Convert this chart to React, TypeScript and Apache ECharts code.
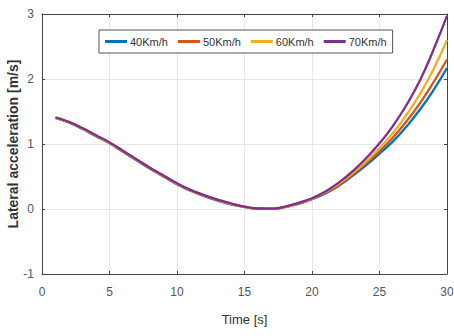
import React, { useEffect, useRef } from "react";
import * as echarts from "echarts";

const times = [1, 2, 3, 4, 5, 6, 7, 8, 9, 10, 11, 12, 13, 14, 15, 16, 17, 18, 19, 20, 21, 22, 23, 24, 25, 26, 27, 28, 29, 30];

const v40 = [1.40, 1.33, 1.23, 1.12, 1.01, 0.88, 0.75, 0.62, 0.50, 0.38, 0.28, 0.20, 0.13, 0.07, 0.03, 0.005, 0.003, 0.03, 0.08, 0.15, 0.24, 0.36, 0.51, 0.67, 0.85, 1.04, 1.27, 1.53, 1.83, 2.17];
const v50 = [1.40, 1.33, 1.235, 1.125, 1.015, 0.885, 0.755, 0.625, 0.505, 0.385, 0.285, 0.205, 0.135, 0.075, 0.032, 0.006, 0.004, 0.032, 0.085, 0.155, 0.25, 0.37, 0.53, 0.70, 0.89, 1.10, 1.35, 1.63, 1.95, 2.30];
const v60 = [1.40, 1.335, 1.24, 1.13, 1.02, 0.89, 0.76, 0.63, 0.51, 0.39, 0.29, 0.21, 0.14, 0.08, 0.034, 0.007, 0.005, 0.034, 0.09, 0.16, 0.26, 0.39, 0.55, 0.73, 0.94, 1.17, 1.45, 1.77, 2.15, 2.60];
const v70 = [1.41, 1.34, 1.245, 1.135, 1.025, 0.895, 0.765, 0.635, 0.515, 0.395, 0.295, 0.215, 0.145, 0.085, 0.036, 0.008, 0.006, 0.036, 0.095, 0.165, 0.27, 0.41, 0.58, 0.78, 1.01, 1.28, 1.60, 1.98, 2.45, 2.97];

const seriesNames = ["40Km/h", "50Km/h", "60Km/h", "70Km/h"];
const seriesValues = [v40, v50, v60, v70];
const colors = ["#0072BD", "#D95319", "#EDB120", "#7E2F8E"];

const xTicks = [0, 5, 10, 15, 20, 25, 30];
const yTicks = [-1, 0, 1, 2, 3];

export default function App() {
  const ref = useRef<HTMLDivElement>(null);
  useEffect(() => {
    if (!ref.current) return;
    const chart = echarts.init(ref.current, null, { renderer: "svg" });
    const font = "Arial, 'Liberation Sans', sans-serif";
    const axisCommon = {
      type: "value" as const,
      axisLine: { show: true, onZero: false, lineStyle: { color: "#444", width: 1 } },
      axisTick: { show: true, inside: true, length: 3, lineStyle: { color: "#444" } },
    };
    chart.setOption({
      animation: false,
      backgroundColor: "#fff",
      color: colors,
      grid: { left: 42, right: 7, top: 14, bottom: 62, containLabel: false, outerBoundsMode: "none" },
      legend: {
        data: seriesNames,
        left: 99,
        top: 30,
        width: 300,
        itemWidth: 22,
        itemHeight: 3,
        itemGap: 10,
        icon: "rect",
        backgroundColor: "#fff",
        borderColor: "#555",
        borderWidth: 1,
        borderRadius: 0,
        padding: [6, 6, 6, 6],
        textStyle: { fontFamily: font, fontSize: 11, color: "#333", padding: [0, 0, 0, -2] },
      },
      xAxis: [
        {
          ...axisCommon,
          position: "bottom",
          min: xTicks[0],
          max: xTicks[xTicks.length - 1],
          interval: 5,
          name: "Time [s]",
          nameLocation: "middle",
          nameGap: 39,
          nameMoveOverlap: false,
          nameTextStyle: { fontFamily: font, fontSize: 13, color: "#333" },
          axisLabel: { fontFamily: font, fontSize: 12, color: "#555", margin: 12 },
          splitLine: { show: true, lineStyle: { color: "#e6e6e6", width: 1 } },
        },
        {
          ...axisCommon,
          position: "top",
          min: xTicks[0],
          max: xTicks[xTicks.length - 1],
          interval: 5,
          axisLabel: { show: false },
          splitLine: { show: false },
        },
      ],
      yAxis: [
        {
          ...axisCommon,
          position: "left",
          min: yTicks[0],
          max: yTicks[yTicks.length - 1],
          interval: 1,
          name: "Lateral acceleration [m/s]",
          nameLocation: "middle",
          nameRotate: 90,
          nameGap: 22,
          nameMoveOverlap: false,
          nameTextStyle: { fontFamily: font, fontSize: 14, fontWeight: "bold", color: "#333" },
          axisLabel: { fontFamily: font, fontSize: 12, color: "#555", margin: 8 },
          splitLine: { show: true, lineStyle: { color: "#e6e6e6", width: 1 } },
        },
        {
          ...axisCommon,
          position: "right",
          min: yTicks[0],
          max: yTicks[yTicks.length - 1],
          interval: 1,
          axisLabel: { show: false },
          splitLine: { show: false },
        },
      ],
      series: seriesNames.map((name, i) => ({
        name,
        type: "line",
        smooth: 0.5,
        showSymbol: false,
        symbol: "none",
        data: times.map((t, j) => [t, seriesValues[i][j]]),
        lineStyle: { width: 2.3, color: colors[i] },
        itemStyle: { color: colors[i] },
      })),
    });
    return () => chart.dispose();
  }, []);
  return <div ref={ref} style={{ width: 454, height: 336, position: "absolute", left: 0, top: 0 }} />;
}
